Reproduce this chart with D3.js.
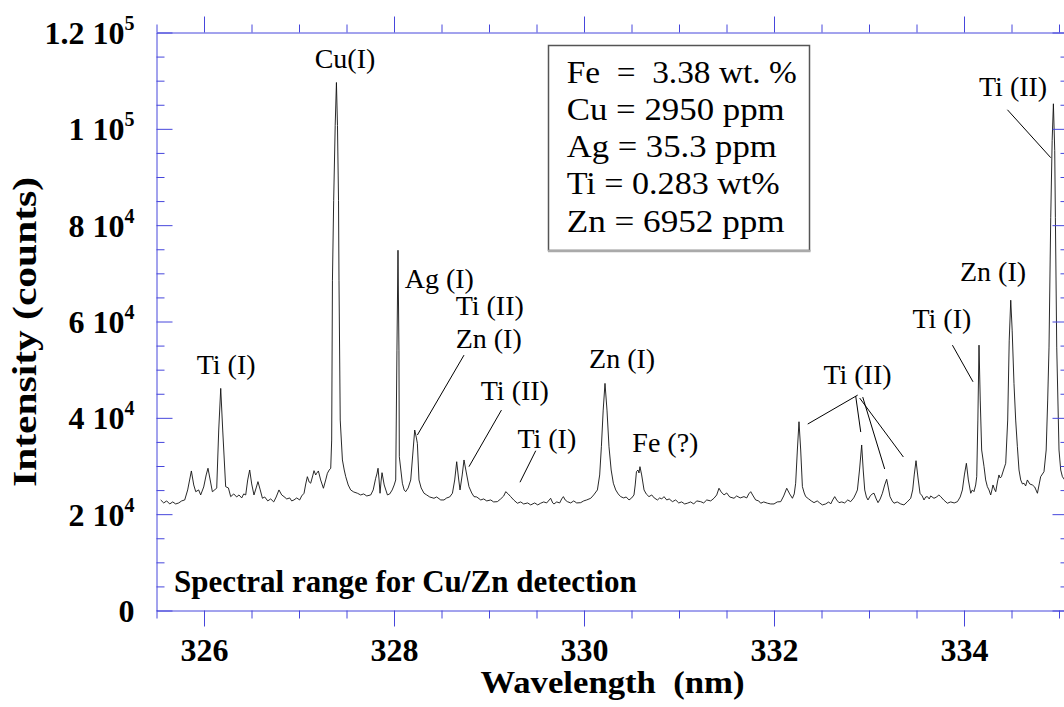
<!DOCTYPE html>
<html><head><meta charset="utf-8">
<script src="https://cdn.jsdelivr.net/npm/d3@7"></script>
<style>
html,body{margin:0;padding:0;background:#fff;}
svg{display:block;}
text{white-space:pre;}
</style></head><body>
<svg id="chart" width="1064" height="707"></svg>
<script>
// ---------------- DATA ----------------
const wavelength = [
325.544,325.576,325.607,325.639,325.671,325.702,325.734,325.765,325.797,325.828,325.867,325.892,325.913,325.944,325.965,325.997,
326.023,326.042,326.065,326.088,326.113,326.134,326.155,326.176,326.197,326.228,326.257,326.281,326.313,326.344,326.368,326.397,
326.418,326.439,326.460,326.481,326.502,326.526,326.549,326.568,326.592,326.615,326.639,326.671,326.702,326.734,326.760,326.789,
326.818,326.842,326.871,326.902,326.923,326.947,326.976,327.007,327.028,327.053,327.071,327.088,327.107,327.123,327.144,327.158,
327.176,327.186,327.204,327.228,327.257,327.281,327.299,327.318,327.334,327.344,327.352,327.365,327.381,327.394,327.405,327.416,
327.421,327.434,327.457,327.476,327.492,327.518,327.544,327.576,327.615,327.649,327.681,327.713,327.755,327.781,327.807,327.820,
327.832,327.843,327.853,327.863,327.874,327.897,327.931,327.955,327.981,328.002,328.018,328.031,328.042,328.052,328.056,328.088,
328.107,328.123,328.149,328.176,328.197,328.218,328.234,328.246,328.263,328.286,328.316,328.344,328.376,328.421,328.449,328.492,
328.526,328.555,328.586,328.615,328.639,328.660,328.679,328.695,328.718,328.737,328.760,328.789,328.818,328.842,328.871,328.913,
328.944,328.976,329.018,329.049,329.088,329.123,329.155,329.176,329.202,329.228,329.260,329.299,329.334,329.365,329.407,329.439,
329.481,329.513,329.544,329.576,329.607,329.634,329.649,329.671,329.684,329.713,329.744,329.765,329.783,329.802,329.825,329.860,
329.892,329.923,329.965,329.997,330.028,330.071,330.102,330.141,330.165,330.183,330.202,330.221,330.242,330.263,330.286,330.309,
330.334,330.360,330.386,330.418,330.444,330.474,330.502,330.526,330.539,330.552,330.568,330.579,330.589,330.607,330.632,330.655,
330.684,330.713,330.739,330.773,330.797,330.818,330.842,330.871,330.897,330.931,330.965,330.997,331.028,331.060,331.088,331.123,
331.155,331.186,331.228,331.260,331.292,331.334,331.368,331.397,331.421,331.444,331.474,331.502,331.534,331.579,331.607,331.644,
331.684,331.713,331.734,331.755,331.781,331.807,331.839,331.860,331.892,331.931,331.965,332.000,332.034,332.071,332.102,332.134,
332.165,332.194,332.213,332.228,332.246,332.263,332.281,332.299,332.318,332.334,332.365,332.392,332.421,332.455,332.481,332.509,
332.544,332.576,332.597,332.618,332.639,332.660,332.684,332.713,332.744,332.776,332.807,332.839,332.860,332.878,332.900,332.923,
332.939,332.955,332.973,332.989,333.013,333.034,333.053,333.076,333.095,333.118,333.141,333.165,333.186,333.204,333.221,333.244,
333.263,333.297,333.334,333.368,333.402,333.439,333.460,333.476,333.495,333.516,333.537,333.560,333.579,333.597,333.615,333.634,
333.649,333.684,333.713,333.734,333.755,333.786,333.825,333.860,333.897,333.931,333.960,333.983,334.004,334.025,334.046,334.071,
334.088,334.105,334.123,334.134,334.146,334.158,334.171,334.186,334.211,334.228,334.246,334.263,334.281,334.294,334.305,334.320,
334.334,334.352,334.368,334.381,334.394,334.416,334.439,334.460,334.476,334.492,334.507,334.526,334.544,334.562,334.579,334.597,
334.615,334.632,334.649,334.667,334.692,334.720,334.744,334.773,334.792,334.807,334.842,334.865,334.881,334.895,334.913,334.928,
334.941,334.955,334.962,334.976,335.000,335.018,335.036,335.060,335.081,335.102
];
const intensity = [
22950,22330,22750,22120,22540,22120,22330,22750,22950,25030,28970,26060,24670,25030,23990,25650,
28140,29530,27100,24670,25030,25440,37470,46110,37470,25710,25440,23640,24200,23570,23990,23370,
24200,23990,27100,29170,26270,23990,25440,26750,25030,23300,23570,22750,23160,22540,23570,25030,
23990,23640,23160,23370,22750,22950,23370,22950,23780,24340,26270,27780,26680,26420,27930,29030,
28140,28490,28970,27100,25380,27100,28490,29170,29530,35390,68570,85150,100700,109620,100700,85150,
68570,39540,31250,29170,27780,26060,25030,24610,24340,23990,24200,23780,23990,25030,27450,28340,
29530,27100,24340,26680,28610,26060,23990,24200,25030,26060,27100,54050,74790,54050,31930,26420,
25030,24670,25440,27100,32280,37470,36010,34710,27100,25440,24340,23990,23570,23300,23570,22950,
22950,23370,23570,24340,27100,30890,27510,25030,28140,31250,28760,25710,24400,23640,23570,22950,
23160,22750,22950,22540,22600,23160,23780,24670,24200,23640,22950,22270,22540,22120,22330,21920,
22330,21920,22270,22540,22330,22950,23300,22330,22120,22540,22330,23160,23640,22950,22600,22330,
22750,22330,22390,22750,22950,23300,23990,25030,28140,34000,41610,47150,41610,34000,29170,26420,
25030,24200,23640,23370,23570,22950,23370,23990,26060,28820,29170,28550,29860,28140,25030,24200,
23640,23990,23370,22950,23370,23160,23640,22950,23160,22600,22950,22330,22540,22120,22270,22540,
22120,22750,22600,22330,22950,22750,23300,23990,25380,24610,23990,24400,23570,23300,23780,23370,
23640,23370,24200,24670,23780,22950,22750,22270,22540,22270,22120,22120,22540,22600,23780,25380,
24200,23300,24200,26420,33320,39190,33320,25710,24400,23640,23160,22750,22390,22750,22330,21920,
22120,22540,22120,22950,23640,22950,22390,22540,22330,22950,22600,23370,24200,25030,29170,34360,
29170,25030,23570,22950,23780,24200,24340,23160,22390,23160,24340,26060,27240,25440,23640,22750,
22270,22540,22120,21920,22540,23300,25030,28140,31100,27510,24340,23780,22950,23570,23640,23160,
23780,23300,23570,23990,23640,22950,22270,22540,22330,22600,23570,25030,28140,30560,27100,24340,
25030,24670,26060,27780,39540,55090,43690,33320,29860,27100,25710,25030,23990,25030,26060,25230,
24670,26680,28140,27510,27780,29170,30560,39540,56130,64420,58200,47150,39540,34000,29170,27100,
26270,26420,25860,27100,26270,26060,25650,24340,26270,27780,28820,33320,43690,54680,81630,97600,
105200,95520,81630,54680,33320,29170,27780,27100,26480,26270
];

const xDomain = [325.5, 335.1];
const yDomain = [0, 120000];
const xMajorTicks = [326, 328, 330, 332, 334];
const xMinorTicks = [325.5, 326.5, 327, 327.5, 328.5, 329, 329.5, 330.5, 331, 331.5, 332.5, 333, 333.5, 334.5, 335];
const yMajorTicks = [0, 20000, 40000, 60000, 80000, 100000, 120000];
const yTickMantissa = ["0", "2", "4", "6", "8", "1", "1.2"];
const yTickExponent = ["", "4", "4", "4", "4", "5", "5"];
const yMinorTicks = [5000, 10000, 15000, 25000, 30000, 35000, 45000, 50000, 55000, 65000, 70000, 75000, 85000, 90000, 95000, 105000, 110000, 115000];

const peakLabelText = ["Ti (I)", "Cu(I)", "Ag (I)", "Ti (II)", "Zn (I)", "Ti (II)", "Ti (I)", "Zn (I)", "Fe (?)", "Ti (II)", "Ti (I)", "Zn (I)", "Ti (II)"];
const peakLabelWl = [325.923, 327.165, 328.113, 328.649, 328.649, 328.913, 329.299, 330.053, 330.509, 332.520, 333.457, 333.958, 334.158];
const peakLabelCounts = [49080, 112730, 66910, 61310, 54410, 43690, 33670, 50260, 32970, 46940, 58680, 68420, 106720];

const leaderFromWl = [328.737, 329.131, 329.492, 332.881, 332.860, 332.934, 332.902, 333.878, 334.457];
const leaderFromCounts = [53020, 41610, 33170, 44720, 44520, 44310, 44100, 55090, 103960];
const leaderToWl = [328.246, 328.789, 329.326, 332.355, 332.913, 333.165, 333.362, 334.095, 334.913];
const leaderToCounts = [36430, 29860, 26620, 38710, 37050, 29380, 31870, 47480, 94010];

const legendLines = ["Fe  =  3.38 wt. %", "Cu = 2950 ppm", "Ag = 35.3 ppm", "Ti = 0.283 wt%", "Zn = 6952 ppm"];
const xTitle = "Wavelength  (nm)";
const yTitle = "Intensity (counts)";
const rangeNote = "Spectral range for Cu/Zn detection";

// ---------------- LAYOUT / STYLE ----------------
const legendLineWidths = [230, 218, 210, 213, 218];
const serif = "'Liberation Serif', 'Times New Roman', serif";
const svg = d3.select("#chart");
const L = 156.5, R = 1068.5, T = 32.5, B = 610.5;
const axisColor = "#4646dc";
const x = d3.scaleLinear().domain(xDomain).range([L, R]);
const y = d3.scaleLinear().domain(yDomain).range([B, T]);

svg.append("defs").append("clipPath").attr("id", "plotclip")
  .append("rect").attr("x", L).attr("y", T).attr("width", R - L).attr("height", B - T);

// spectrum
const pts = wavelength.map((w, i) => [w, intensity[i]]);
const line = d3.line().x(d => x(d[0])).y(d => y(d[1]));
svg.append("path").datum(pts)
  .attr("clip-path", "url(#plotclip)")
  .attr("d", line)
  .attr("fill", "none").attr("stroke", "#111").attr("stroke-width", 0.9)
  .attr("stroke-linejoin", "round");

function styleAxis(g) {
  g.selectAll(".domain").attr("stroke", axisColor).attr("stroke-width", 1);
  g.selectAll(".tick line").attr("stroke", axisColor).attr("stroke-width", 1);
}

// minor ticks
const minors = [
  [d3.axisLeft(y).tickValues(yMinorTicks).tickSize(-8), `translate(${L},0)`],
  [d3.axisRight(y).tickValues(yMinorTicks).tickSize(-8), `translate(${R},0)`],
  [d3.axisBottom(x).tickValues(xMinorTicks).tickSize(8), `translate(0,${B})`],
  [d3.axisTop(x).tickValues(xMinorTicks).tickSize(8), `translate(0,${T})`]
];
minors.forEach(([ax, tr]) => {
  const g = svg.append("g").attr("transform", tr).call(ax.tickSizeOuter(0).tickFormat(""));
  g.select(".domain").remove();
  styleAxis(g);
});

// major axes
const gLeft = svg.append("g").attr("transform", `translate(${L},0)`)
  .call(d3.axisLeft(y).tickValues(yMajorTicks).tickSize(-16).tickSizeOuter(0).tickPadding(22).tickFormat(""));
styleAxis(gLeft);
gLeft.selectAll(".tick text").each(function(d) {
  const t = d3.select(this);
  t.attr("dy", null).attr("y", 11)
    .attr("font-family", serif).attr("font-weight", "bold")
    .attr("font-size", 32).attr("fill", "#000").attr("text-anchor", "end");
  const idx = yMajorTicks.indexOf(d);
  t.text(null);
  t.append("tspan").text(yTickExponent[idx] ? yTickMantissa[idx] + " 10" : yTickMantissa[idx]);
  if (yTickExponent[idx]) {
    t.append("tspan").attr("font-size", 20).attr("dy", -14).text(yTickExponent[idx]);
  }
});

const gRight = svg.append("g").attr("transform", `translate(${R},0)`)
  .call(d3.axisRight(y).tickValues(yMajorTicks).tickSize(-16).tickSizeOuter(0).tickFormat(""));
styleAxis(gRight);

const gBottom = svg.append("g").attr("transform", `translate(0,${B})`)
  .call(d3.axisBottom(x).tickValues(xMajorTicks).tickSize(16).tickSizeOuter(0).tickFormat(d3.format("d")));
styleAxis(gBottom);
gBottom.selectAll(".tick text")
  .attr("dy", null).attr("y", 50.5)
  .attr("font-family", serif).attr("font-weight", "bold")
  .attr("font-size", 32).attr("fill", "#000");

const gTop = svg.append("g").attr("transform", `translate(0,${T})`)
  .call(d3.axisTop(x).tickValues(xMajorTicks).tickSize(16).tickSizeOuter(0).tickFormat(""));
styleAxis(gTop);

// axis titles
svg.append("text").attr("x", (L + R) / 2).attr("y", 693)
  .attr("text-anchor", "middle")
  .attr("font-family", serif).attr("font-weight", "bold").attr("font-size", 32)
  .attr("textLength", 264).attr("lengthAdjust", "spacingAndGlyphs")
  .text(xTitle);
svg.append("text").attr("transform", "translate(36,332) rotate(-90)")
  .attr("text-anchor", "middle")
  .attr("font-family", serif).attr("font-weight", "bold").attr("font-size", 34)
  .attr("textLength", 310).attr("lengthAdjust", "spacingAndGlyphs")
  .text(yTitle);

// range note
svg.append("text").attr("x", 174).attr("y", 592)
  .attr("font-family", serif).attr("font-weight", "bold").attr("font-size", 31)
  .text(rangeNote);

// peak labels
svg.append("g").selectAll("text").data(peakLabelText).join("text")
  .attr("x", (d, i) => x(peakLabelWl[i]))
  .attr("y", (d, i) => y(peakLabelCounts[i]))
  .attr("font-family", serif).attr("font-size", 28).attr("fill", "#000")
  .text(d => d);

// leader lines
svg.append("g").selectAll("line").data(leaderFromWl).join("line")
  .attr("x1", (d, i) => x(leaderFromWl[i])).attr("y1", (d, i) => y(leaderFromCounts[i]))
  .attr("x2", (d, i) => x(leaderToWl[i])).attr("y2", (d, i) => y(leaderToCounts[i]))
  .attr("stroke", "#000").attr("stroke-width", 1);

// legend box
const lg = svg.append("g");
lg.append("rect").attr("x", 548.5).attr("y", 45.5).attr("width", 261).attr("height", 205)
  .attr("fill", "#fff").attr("stroke", "#555").attr("stroke-width", 1.5);
lg.append("line").attr("x1", 548).attr("x2", 810.5).attr("y1", 251).attr("y2", 251)
  .attr("stroke", "#aaa").attr("stroke-width", 2.5);
lg.selectAll("text").data(legendLines).join("text")
  .attr("x", 566.7).attr("y", (d, i) => 82.7 + i * 37.25)
  .attr("font-family", serif).attr("font-size", 31).attr("fill", "#000")
  .attr("textLength", (d, i) => legendLineWidths[i]).attr("lengthAdjust", "spacingAndGlyphs")
  .text(d => d);
</script>
</body></html>
